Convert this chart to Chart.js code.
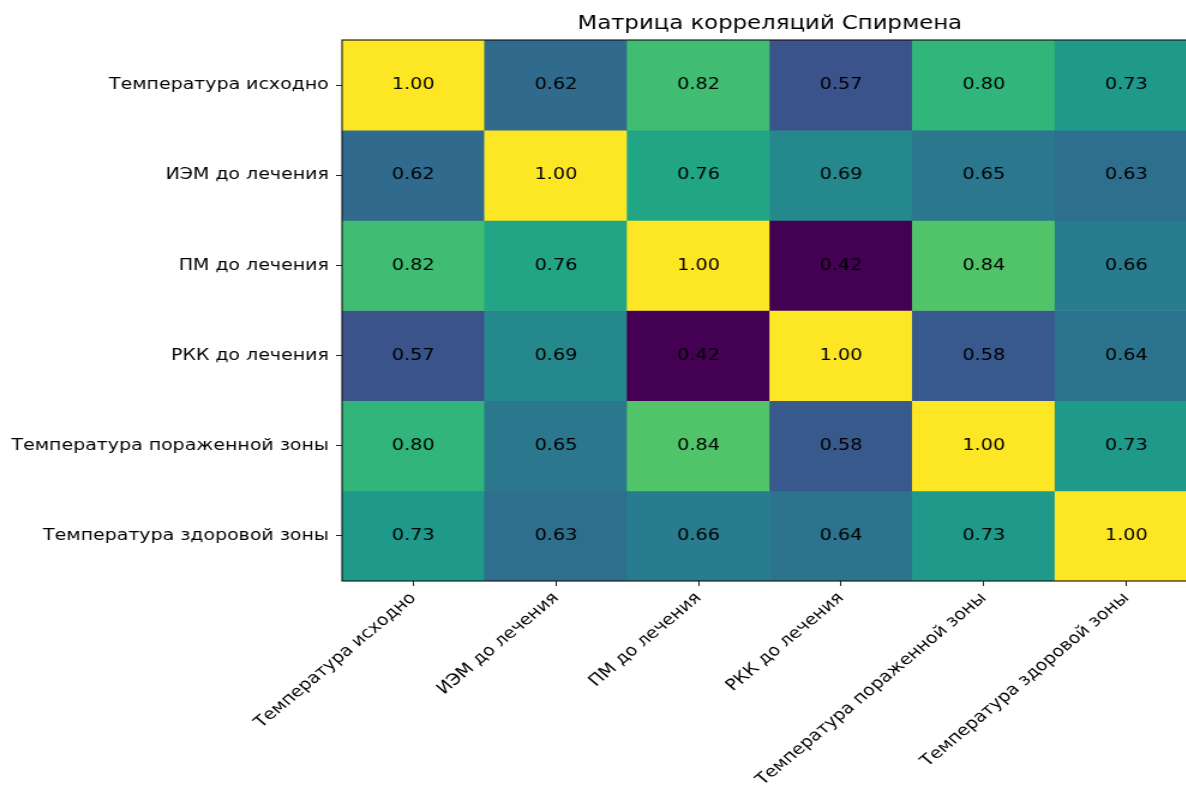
<!DOCTYPE html>
<html lang="ru">
<head>
<meta charset="utf-8">
<title>Матрица корреляций Спирмена</title>
<script src="https://cdn.jsdelivr.net/npm/chart.js@4/dist/chart.umd.min.js"></script>
<style>
  html, body { margin: 0; padding: 0; background: #ffffff; overflow: hidden; }
  /* the figure is laid out at 1000px and shown stretched horizontally */
  #wrap { position: relative; width: 1000px; height: 787px; transform: scaleX(1.2); transform-origin: 0 0; }
</style>
</head>
<body>
<div id="wrap"><canvas id="heat" width="1000" height="787"></canvas></div>
<script>
// Variables of the correlation matrix (same order on both axes)
const variables = [
  'Температура исходно',
  'ИЭМ до лечения',
  'ПМ до лечения',
  'РКК до лечения',
  'Температура пораженной зоны',
  'Температура здоровой зоны'
];

// Spearman coefficients, one row per variable
const rowTempBase    = [1.00, 0.62, 0.82, 0.57, 0.80, 0.73];
const rowIEM         = [0.62, 1.00, 0.76, 0.69, 0.65, 0.63];
const rowPM          = [0.82, 0.76, 1.00, 0.42, 0.84, 0.66];
const rowRKK         = [0.57, 0.69, 0.42, 1.00, 0.58, 0.64];
const rowTempAffect  = [0.80, 0.65, 0.84, 0.58, 1.00, 0.73];
const rowTempHealthy = [0.73, 0.63, 0.66, 0.64, 0.73, 1.00];

const matrixRows = [rowTempBase, rowIEM, rowPM, rowRKK, rowTempAffect, rowTempHealthy];

const chartTitle = 'Матрица корреляций Спирмена';

// Viridis colormap, sampled every 0.05
const viridisStops = [
  '#440154', '#471365', '#482475', '#463480', '#414487', '#3b528b', '#355f8d',
  '#2f6c8e', '#2a788e', '#25848e', '#21918c', '#1e9c89', '#22a884', '#2fb47c',
  '#44bf70', '#5ec962', '#7ad151', '#9bd93c', '#bddf26', '#dfe318', '#fde725'
];
function hexToRgb(h) {
  return [parseInt(h.slice(1, 3), 16), parseInt(h.slice(3, 5), 16), parseInt(h.slice(5, 7), 16)];
}
function viridis(t) {
  t = Math.max(0, Math.min(1, t));
  const pos = t * (viridisStops.length - 1);
  const i = Math.min(Math.floor(pos), viridisStops.length - 2);
  const f = pos - i;
  const a = hexToRgb(viridisStops[i]);
  const b = hexToRgb(viridisStops[i + 1]);
  const c = a.map((v, k) => Math.round(v + (b[k] - v) * f));
  return `rgb(${c[0]},${c[1]},${c[2]})`;
}

const allValues = matrixRows.flat();
const vMin = Math.min(...allValues);
const vMax = Math.max(...allValues);
const colorFor = v => viridis((v - vMin) / (vMax - vMin));

// One floating-bar dataset per matrix row: each cell spans [row, row + 1]
const datasets = matrixRows.map((row, r) => ({
  label: variables[r],
  data: row.map(() => [r, r + 1]),
  coeffs: row,
  backgroundColor: row.map(colorFor),
  borderWidth: 0,
  grouped: false,
  barPercentage: 1,
  categoryPercentage: 1,
  yAxisID: 'y'
}));

const FONT = "'DejaVu Sans', 'Liberation Sans', sans-serif";

// Writes each coefficient in the middle of its cell
const cellText = {
  id: 'cellText',
  afterDatasetsDraw(chart) {
    const ctx = chart.ctx;
    ctx.save();
    ctx.font = `16px ${FONT}`;
    ctx.fillStyle = '#000000';
    ctx.textAlign = 'center';
    ctx.textBaseline = 'middle';
    chart.data.datasets.forEach((ds, di) => {
      chart.getDatasetMeta(di).data.forEach((bar, i) => {
        const p = bar.getProps(['x', 'y', 'base'], true);
        ctx.fillText(ds.coeffs[i].toFixed(2), p.x, (p.y + p.base) / 2);
      });
    });
    ctx.restore();
  }
};

// Axes frame and the title centred over the plotting area
const frameAndTitle = {
  id: 'frameAndTitle',
  afterDatasetsDraw(chart) {
    const a = chart.chartArea;
    const ctx = chart.ctx;
    ctx.save();
    ctx.strokeStyle = '#111111';
    ctx.lineWidth = 1.1;
    ctx.strokeRect(a.left, a.top, a.right - a.left, a.bottom - a.top);
    ctx.font = `19px ${FONT}`;
    ctx.fillStyle = '#000000';
    ctx.textAlign = 'center';
    ctx.textBaseline = 'alphabetic';
    ctx.fillText(chartTitle, (a.left + a.right) / 2, 29);
    ctx.restore();
  }
};

new Chart(document.getElementById('heat'), {
  type: 'bar',
  data: { labels: variables, datasets },
  plugins: [cellText, frameAndTitle],
  options: {
    responsive: false,
    animation: false,
    devicePixelRatio: 1,
    layout: { padding: { left: 0, right: 2, top: 40, bottom: 0 } },
    plugins: {
      legend: { display: false },
      tooltip: { enabled: false },
      title: { display: false }
    },
    scales: {
      x: {
        type: 'category',
        offset: true,
        grid: { display: true, drawOnChartArea: false, offset: false, tickLength: 5, color: '#222222', tickWidth: 1 },
        border: { display: false },
        ticks: {
          autoSkip: false,
          minRotation: 45,
          maxRotation: 45,
          padding: 3,
          color: '#000000',
          font: { family: FONT, size: 15.8 }
        },
        afterFit(scale) { scale.height = 206; }
      },
      y: {
        type: 'linear',
        display: false,
        reverse: true,
        min: 0,
        max: 6
      },
      yl: {
        type: 'category',
        position: 'left',
        labels: variables,
        offset: true,
        grid: { display: true, drawOnChartArea: false, offset: false, tickLength: 5, color: '#222222', tickWidth: 1 },
        border: { display: false },
        ticks: {
          autoSkip: false,
          padding: 6,
          color: '#000000',
          font: { family: FONT, size: 15.8 }
        },
        afterFit(scale) { scale.width = 285; }
      }
    }
  }
});
</script>
</body>
</html>
